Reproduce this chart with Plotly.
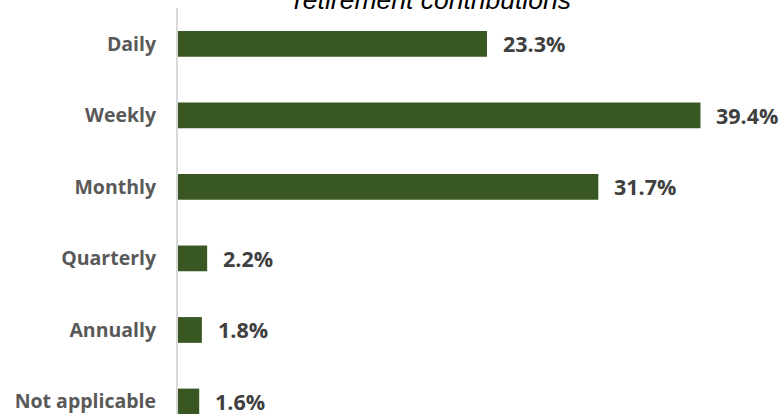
import plotly.graph_objects as go

# Share of respondents by how often they make retirement contributions
categories = ["Daily", "Weekly", "Monthly", "Quarterly", "Annually", "Not applicable"]
shares = [23.3, 39.4, 31.7, 2.2, 1.8, 1.6]
value_labels = [f"{v:.1f}%" for v in shares]

bar_color = "#385723"
label_color = "#595959"
value_color = "#404040"

fig = go.Figure(
    go.Bar(
        x=shares,
        y=categories,
        orientation="h",
        marker=dict(color=bar_color, line=dict(width=0)),
        width=0.36,
        hoverinfo="x+y",
    )
)

# Value labels placed just beyond the end of each bar
annotations = [
    dict(
        x=v,
        y=c,
        xref="x",
        yref="y",
        text=t,
        xanchor="left",
        yanchor="middle",
        xshift=14,
        showarrow=False,
        font=dict(family="Open Sans", size=21.5, color=value_color, weight="bold"),
    )
    for c, v, t in zip(categories, shares, value_labels)
]

# Chart title (second line sits at the very top of the canvas)
annotations.append(
    dict(
        text="retirement contributions",
        xref="paper",
        yref="paper",
        x=(432 - 178) / 602,
        y=1,
        xanchor="center",
        yanchor="bottom",
        yshift=-9,
        showarrow=False,
        font=dict(family="Liberation Sans", size=26.5, color="#000000", style="italic"),
    )
)

fig.update_layout(
    width=780,
    height=414,
    margin=dict(l=178, r=0, t=8, b=0),
    paper_bgcolor="white",
    plot_bgcolor="white",
    showlegend=False,
    annotations=annotations,
)

fig.update_xaxes(
    range=[0, 602 / 13.26],
    visible=False,
    showgrid=False,
    zeroline=False,
)

fig.update_yaxes(
    categoryorder="array",
    categoryarray=categories,
    range=[5.175, -0.5],
    showgrid=False,
    zeroline=False,
    showline=True,
    linecolor="#d9d9d9",
    linewidth=2,
    ticks="",
    ticklabelstandoff=16,
    tickfont=dict(family="Open Sans", size=19.5, color=label_color, weight="bold"),
)

fig.write_html("out.html")
